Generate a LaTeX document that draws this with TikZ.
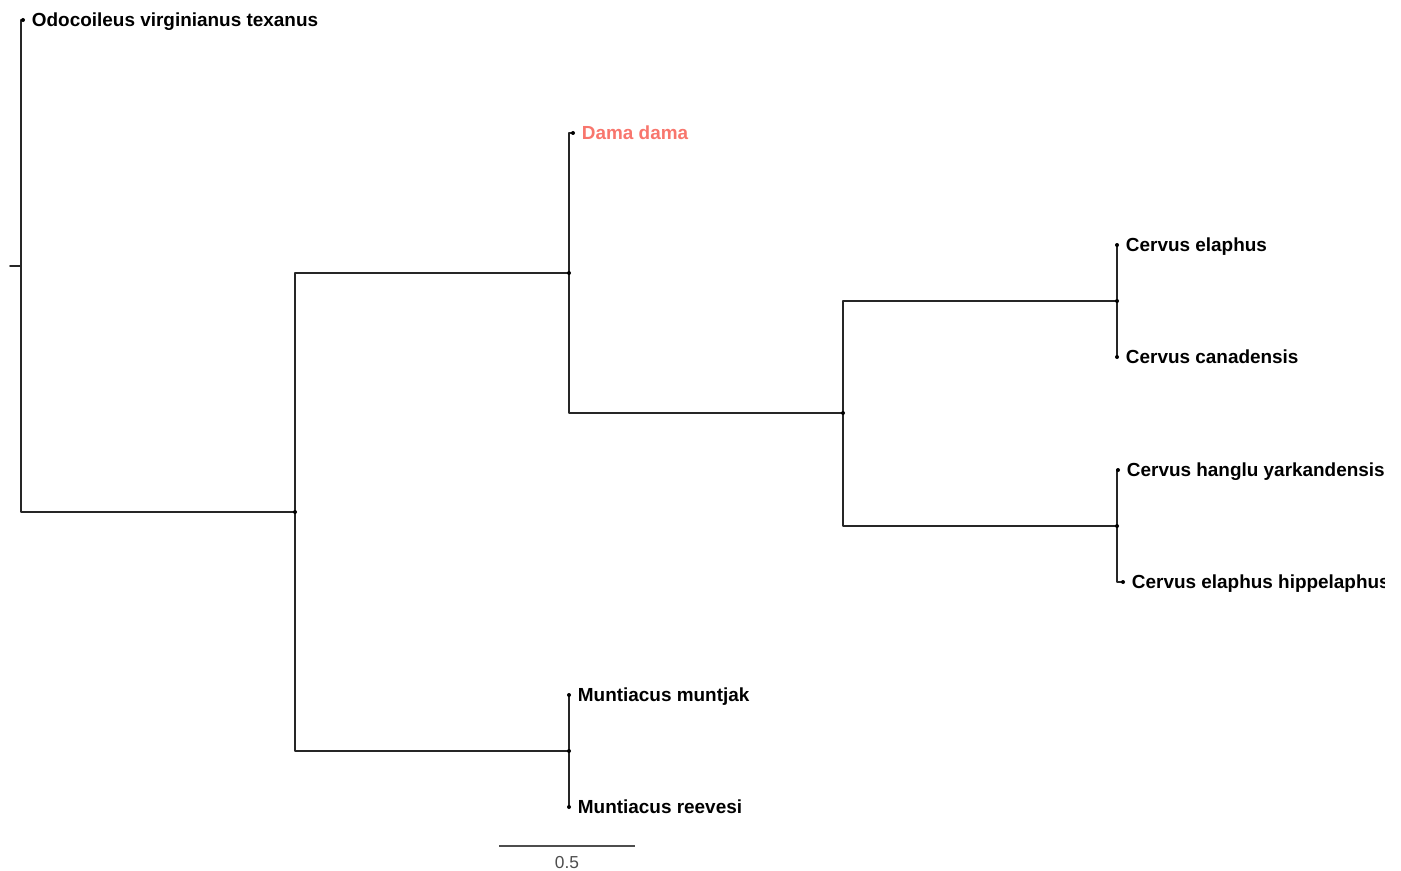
\documentclass[tikz,border=0pt]{standalone}
\usepackage{fontspec}
\setmainfont{Liberation Sans}
\definecolor{damared}{HTML}{F8766D}
\definecolor{scalegray}{HTML}{4D4D4D}
\tikzset{
  branch/.style = {line width=1.25pt, black!85},
  lab/.style = {font=\bfseries\fontsize{14.2}{16}\selectfont, inner sep=0pt,
    text height=10.2pt, text depth=0pt},
}
\begin{document}
\begin{tikzpicture}[x=0.75pt, y=-0.75pt, line join = round, line cap = round, label distance=6.5pt]
\useasboundingbox (0,0) rectangle (1401,870);
\clip (0,0) rectangle (1384,870);

% internal nodes
\coordinate (root) at (21, 266);
\coordinate (stub) at (10, 266);
\coordinate (A) at (295, 512);
\coordinate (B) at (569, 273);
\coordinate (C) at (843, 413);
\coordinate (D) at (1117, 301);
\coordinate (E) at (1117, 526);
\coordinate (F) at (569, 751);

% tips
\coordinate [label = {[lab]right:Odocoileus virginianus texanus}] (odo) at (23, 20);
\coordinate [label = {[lab, damared]right:Dama dama}] (dama) at (573, 133);
\coordinate [label = {[lab]right:Cervus elaphus}] (elaph) at (1117, 245);
\coordinate [label = {[lab]right:Cervus canadensis}] (canad) at (1117, 357);
\coordinate [label = {[lab]right:Cervus hanglu yarkandensis}] (hangl) at (1118, 470);
\coordinate [label = {[lab]right:Cervus elaphus hippelaphus}] (hippe) at (1123, 582);
\coordinate [label = {[lab]right:Muntiacus muntjak}] (muntj) at (569, 695);
\coordinate [label = {[lab]right:Muntiacus reevesi}] (reeve) at (569, 807);

\draw[branch] (stub) -- (root);
\draw[branch] (root) |- (odo);
\draw[branch] (root) |- (A);
\draw[branch] (A) |- (B);
\draw[branch] (A) |- (F);
\draw[branch] (B) |- (dama);
\draw[branch] (B) |- (C);
\draw[branch] (C) |- (D);
\draw[branch] (C) |- (E);
\draw[branch] (D) |- (elaph);
\draw[branch] (D) |- (canad);
\draw[branch] (E) |- (hangl);
\draw[branch] (E) |- (hippe);
\draw[branch] (F) |- (muntj);
\draw[branch] (F) |- (reeve);

\foreach \i in {A, B, C, D, E, F, odo, dama, elaph, canad, hangl, hippe, muntj, reeve}{
  \fill[black] (\i) circle (2);
}

% scale bar
\coordinate (sbl) at (499, 846);
\coordinate (sbr) at (635, 846);
\draw[line width=0.9pt, scalegray, line cap=butt] (sbl) -- (sbr)
  node[midway, below=4pt, font=\fontsize{13}{15}\selectfont, text=scalegray] (sblab) {0.5};
\end{tikzpicture}
\end{document}
